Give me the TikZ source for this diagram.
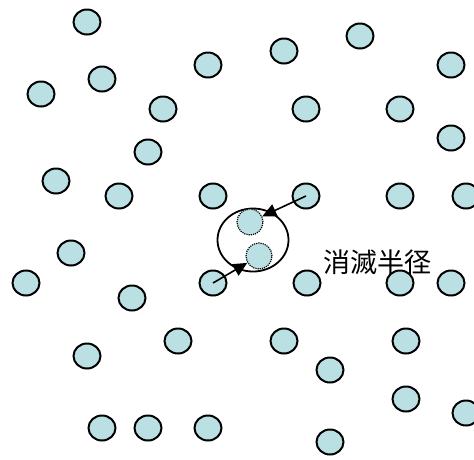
\documentclass[tikz,border=0pt]{standalone}
\usepackage{fontspec}
\newfontfamily\cjk{Noto Sans CJK JP}
\usetikzlibrary{shapes.geometric,arrows.meta,positioning}
\definecolor{dotfill}{RGB}{187,224,227}

\tikzset{
  particle/.style={draw, ellipse, fill=dotfill, line width=2pt, minimum width=27pt, minimum height=25pt, inner sep=0pt},
  ghost/.style={draw, circle, fill=dotfill, densely dotted, line width=1.2pt, minimum size=26pt, inner sep=0pt},
  zone/.style={draw, ellipse, line width=1.8pt, minimum width=71pt, minimum height=63pt, inner sep=0pt},
  push/.style={-{Triangle[length=14pt,width=13pt]}, line width=1.6pt}
}

\begin{document}
\begin{tikzpicture}[x=1pt, y=-1pt]
\useasboundingbox (0,0) rectangle (474,459);
% annihilation zone
\node[zone] (zone) at (253,240) {};
\node[ghost] (g1) at (250,222) {};
\node[ghost] (g2) at (259,256) {};
% scattered particles
\foreach \px/\py [count=\i] in {87/22, 208/65, 102/79, 41/94, 163/109, 148/152, 56/181, 119/196, 213/196,
  284/51, 360/36, 451/65, 306/109, 400/109, 451/138, 400/196, 466/196,
  71/253, 26/283, 132/298, 178/341, 87/356, 102/428, 148/428, 208/428,
  307/283, 400/283, 451/283, 284/341, 406/341, 330/370, 406/399, 466/413, 330/442}
  \node[particle] (p\i) at (\px,\py) {};
\node[particle] (pa) at (306,196) {};
\node[particle] (pb) at (213,283) {};
% arrows into the zone
\draw[push] (pa.center) -- (g1);
\draw[push] (pb.center) -- (g2);
\node[font=\cjk\fontsize{27}{27}\selectfont] (label) at (377,262) {消滅半径};
\end{tikzpicture}
\end{document}
